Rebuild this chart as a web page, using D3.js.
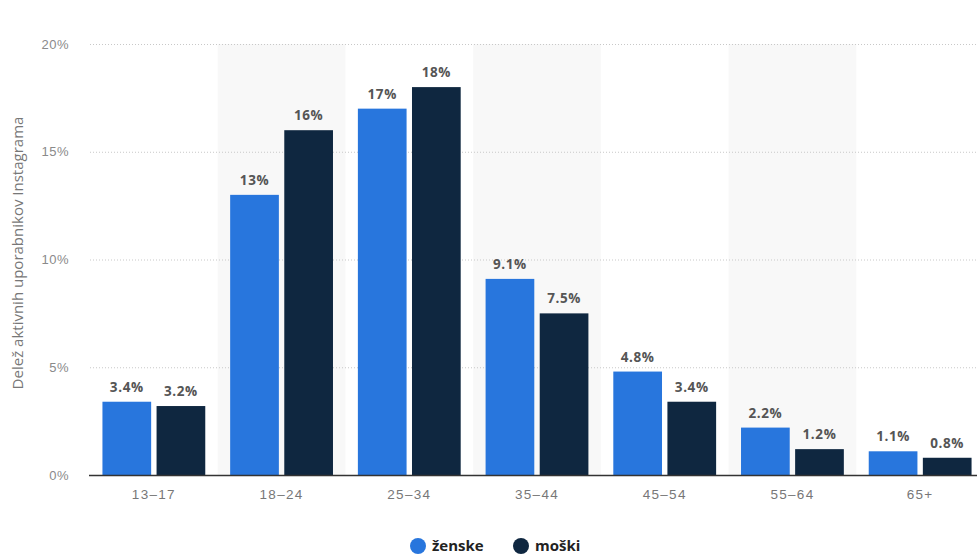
<!DOCTYPE html>
<html><head><meta charset="utf-8">
<script src="https://cdn.jsdelivr.net/npm/d3@7"></script>
<style>
body{margin:0;background:#fff;}
svg{display:block;font-family:"Open Sans",sans-serif;}
</style></head>
<body><svg id="c" width="977" height="556"></svg>
<script>
const categories = ["13-17","18-24","25-34","35-44","45-54","55-64","65+"];
const seriesNames = ["ženske","moški"];
const zenske = [3.4,13,17,9.1,4.8,2.2,1.1];
const moski = [3.2,16,18,7.5,3.4,1.2,0.8];
const labelsZ = ["3.4%","13%","17%","9.1%","4.8%","2.2%","1.1%"];
const labelsM = ["3.2%","16%","18%","7.5%","3.4%","1.2%","0.8%"];
const yTicks = [0,5,10,15,20];
const colors = ["#2876dd","#0f2740"];

(function(){
const svg = d3.select("#c");
const mL = 90, mR = 984, mT = 44, mB = 475;
const x = d3.scaleBand().domain(categories).range([mL, mR]).paddingInner(0).paddingOuter(0);
const xs = d3.scaleBand().domain(seriesNames).range([0, x.bandwidth()]).paddingInner(0.1).paddingOuter(0.23);
const y = d3.scaleLinear().domain([0,20]).range([mB, mT]);

svg.append("g").selectAll("rect").data(categories.filter((d,i)=>i%2===1)).join("rect")
  .attr("x", d=>x(d)).attr("y", mT).attr("width", x.bandwidth()).attr("height", mB-mT)
  .attr("fill","#f8f8f8");

const yAxis = d3.axisLeft(y).tickValues(yTicks).tickFormat(d=>d+"%").tickSize(-(977-mL)).tickPadding(21);
const gy = svg.append("g").attr("transform",`translate(${mL},0)`).call(yAxis);
gy.select(".domain").remove();
gy.selectAll(".tick line").attr("stroke","#c8c8c8").attr("stroke-dasharray","1,2").attr("stroke-width",1);
gy.selectAll(".tick text").attr("fill","#8a8a8a").attr("font-size","13px").attr("letter-spacing","0.5px");
gy.selectAll(".tick").filter(d=>d===0).select("line").remove();

const data = categories.map((c,i)=>({c, vals:[{s:seriesNames[0],v:zenske[i],l:labelsZ[i]},{s:seriesNames[1],v:moski[i],l:labelsM[i]}]}));
const g = svg.append("g");
const grp = g.selectAll("g").data(data).join("g").attr("transform",d=>`translate(${x(d.c)},0)`);
grp.selectAll("rect").data(d=>d.vals).join("rect")
  .attr("x",d=>xs(d.s)).attr("width",xs.bandwidth())
  .attr("y",d=>y(d.v)).attr("height",d=>mB-y(d.v))
  .attr("fill",(d,i)=>colors[i]);
grp.selectAll("text").data(d=>d.vals).join("text")
  .attr("x",d=>xs(d.s)+xs.bandwidth()/2).attr("y",d=>y(d.v)-10)
  .attr("text-anchor","middle").attr("font-size","13.5px").attr("font-weight","bold")
  .attr("fill","#555").attr("letter-spacing","0.6px").text(d=>d.l);

const xAxis = d3.axisBottom(x).tickSize(0).tickPadding(14).tickFormat(d=>d.replace("-","–"));
const gx = svg.append("g").attr("transform",`translate(0,${mB})`).call(xAxis);
gx.select(".domain").remove();
gx.selectAll(".tick text").attr("fill","#777").attr("font-size","13.5px").attr("letter-spacing","1.3px");
svg.append("line").attr("x1",mL-1).attr("x2",977).attr("y1",mB+0.5).attr("y2",mB+0.5).attr("stroke","#333").attr("stroke-width",1.5);

svg.append("text").attr("transform",`translate(23,253) rotate(-90)`)
  .attr("text-anchor","middle").attr("font-size","15px").attr("fill","#777").text("Delež aktivnih uporabnikov Instagrama");

const leg = svg.append("g");
const lx = [418, 521];
seriesNames.forEach((s,i)=>{
  leg.append("circle").attr("cx",lx[i]).attr("cy",546).attr("r",8).attr("fill",colors[i]);
  leg.append("text").attr("x",lx[i]+14).attr("y",551).attr("font-size","15px").attr("font-weight","bold").attr("fill","#222").text(s);
});
})();
</script></body></html>
